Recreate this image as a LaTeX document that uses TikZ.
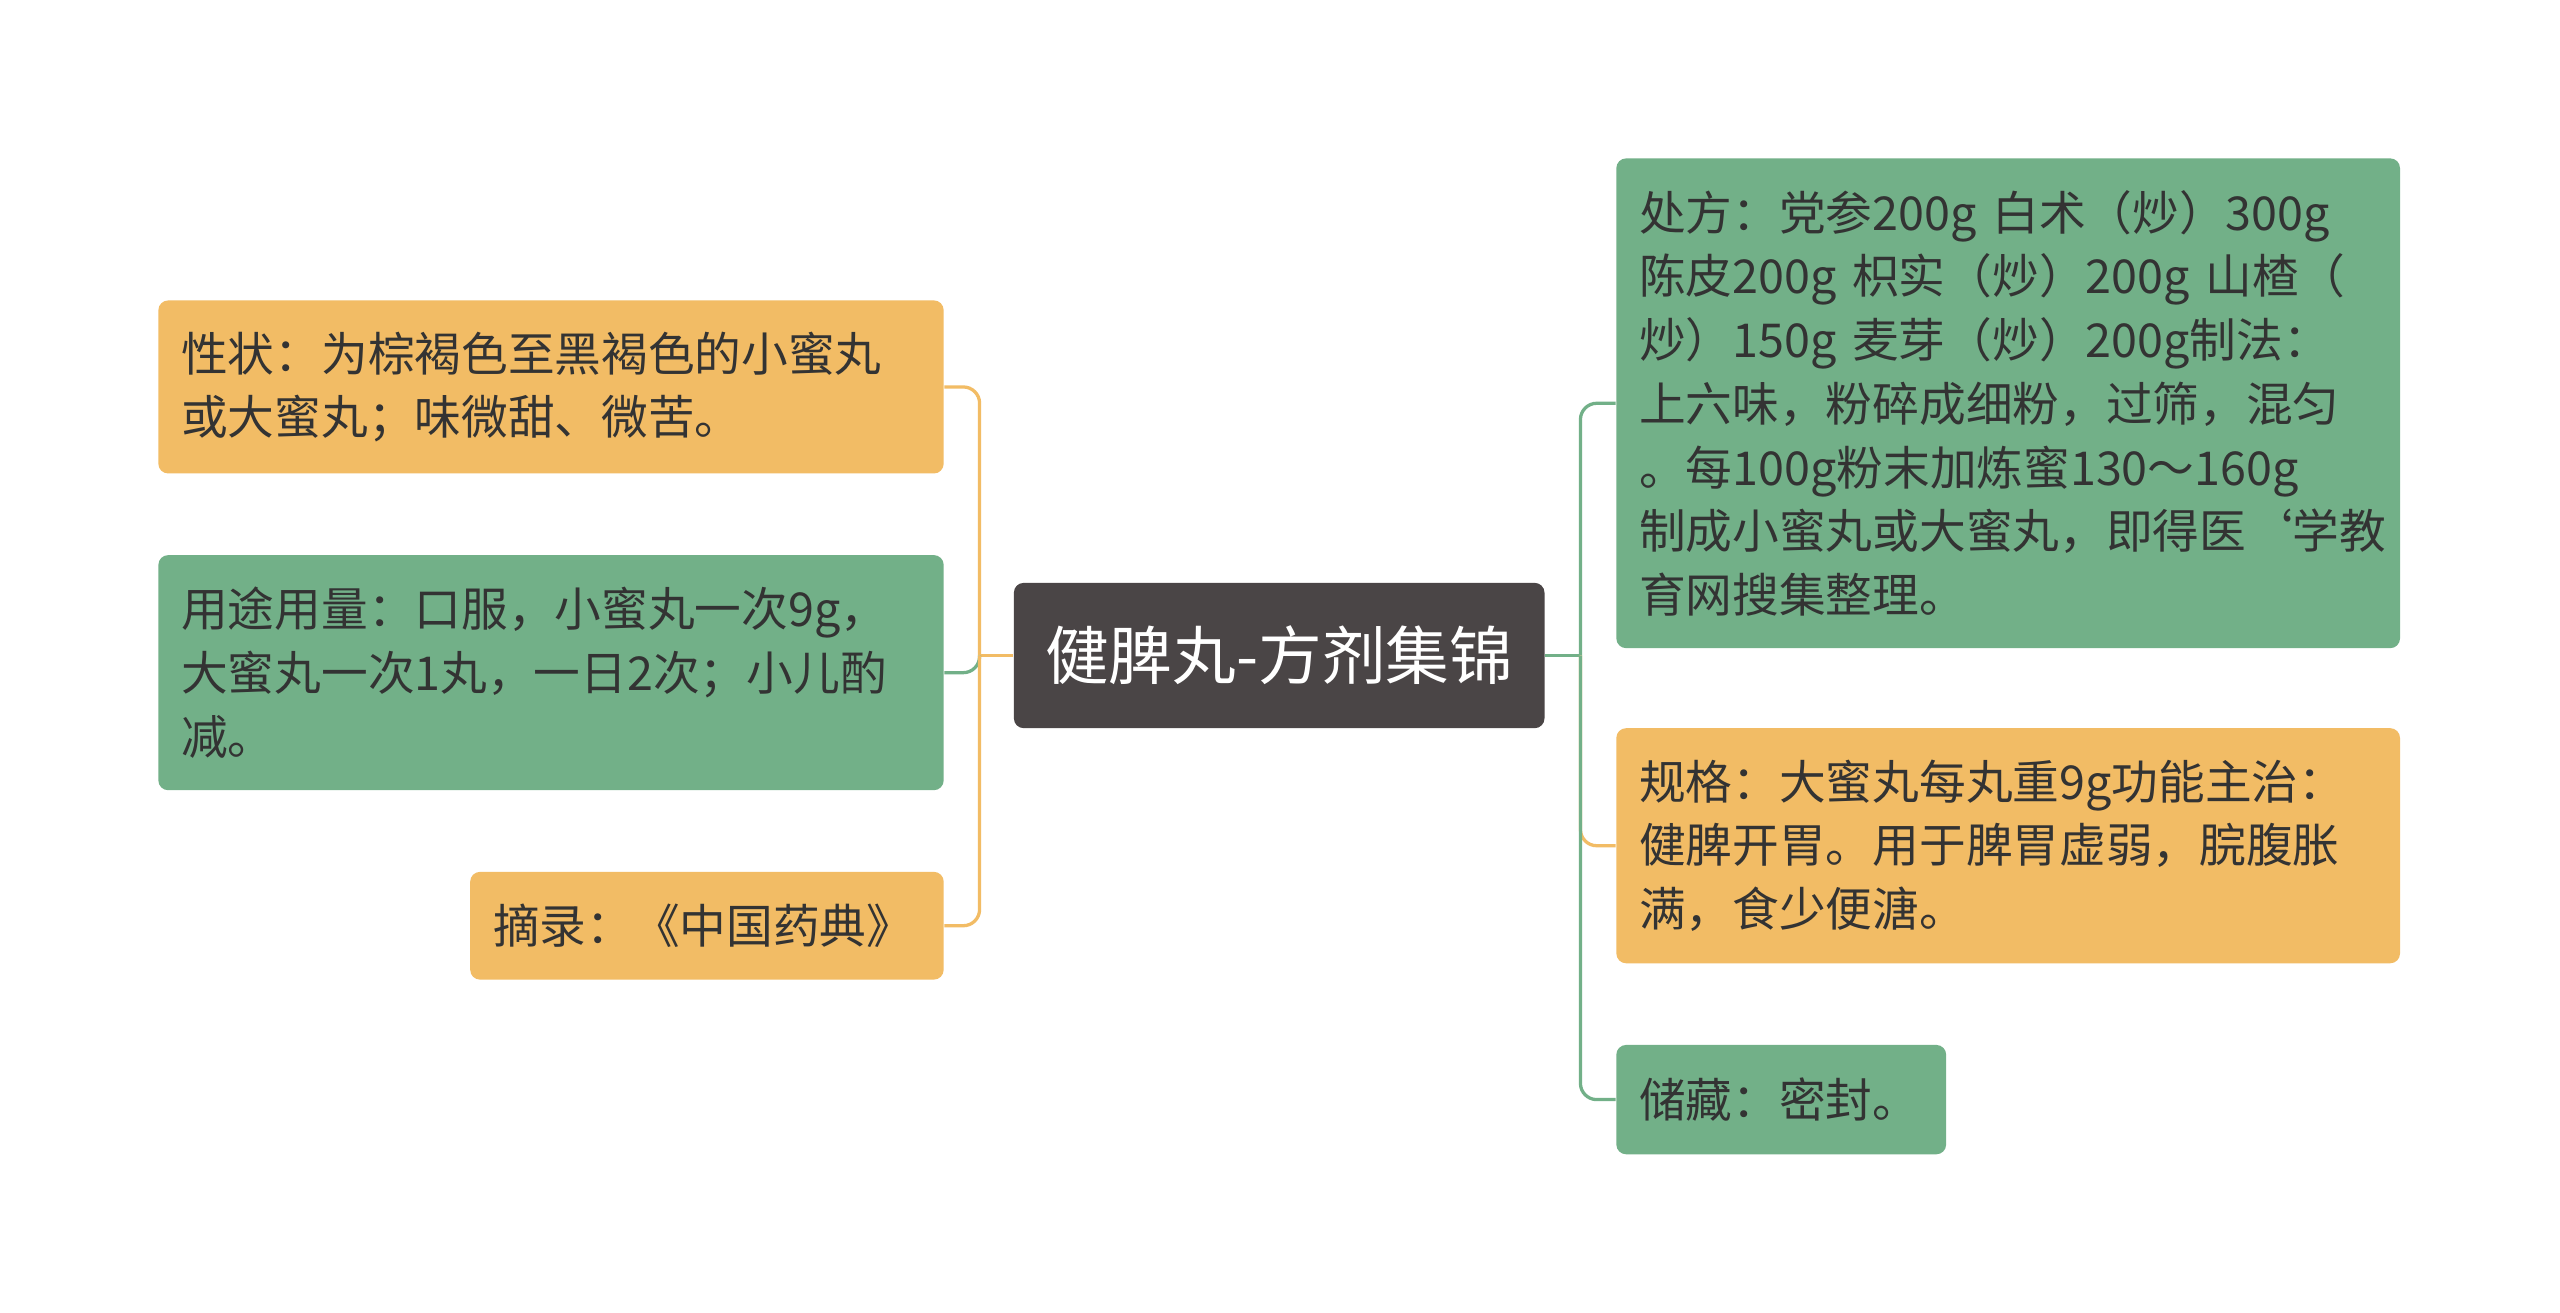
\documentclass[tikz,border=0pt]{standalone}
\usepackage{fontspec}
\setmainfont{Noto Sans CJK SC}
\definecolor{orgC}{HTML}{F2BC65}
\definecolor{grnC}{HTML}{72B088}
\definecolor{ctrC}{HTML}{4A4546}
\definecolor{txtC}{HTML}{333333}
\begin{document}
\begin{tikzpicture}[x=0.5pt,y=-0.5pt,
  box/.style={rounded corners=3pt,align=left,inner xsep=7pt,inner ysep=0pt,text=txtC,
    font=\fontsize{14.3pt}{19.5pt}\selectfont},
  obox/.style={box,fill=orgC},
  gbox/.style={box,fill=grnC},
  oline/.style={draw=orgC,line width=1pt,rounded corners=5pt},
  gline/.style={draw=grnC,line width=1pt,rounded corners=5pt}]
\fill[white] (0,0) rectangle (1568,804);
\useasboundingbox (0,0) rectangle (1568,804);
\node[rounded corners=3pt,fill=ctrC,text=white,minimum width=162.5pt,minimum height=44.5pt,inner sep=0pt,font=\fontsize{19.5pt}{23pt}\selectfont] (c) at (783.5,401.5) {健脾丸-方剂集锦};
\node[obox,text width=226.5pt,minimum height=53pt] (l1) at (337.5,237) {性状：为棕褐色至黑褐色的小蜜丸\\或大蜜丸；味微甜、微苦。};
\node[gbox,text width=226.5pt,minimum height=72pt] (l2) at (337.5,412) {用途用量：口服，小蜜丸一次9g，\\大蜜丸一次1丸，一日2次；小儿酌\\减。};
\node[obox,text width=131pt,minimum height=33pt] (l3) at (433,567) {摘录：《中国药典》};
\node[gbox,text width=226pt,minimum height=150pt] (r1) at (1230,247) {处方：党参200g 白术（炒）300g\\陈皮200g 枳实（炒）200g 山楂（\\炒）150g 麦芽（炒）200g制法：\\上六味，粉碎成细粉，过筛，混匀\\。每100g粉末加炼蜜130～160g\\制成小蜜丸或大蜜丸，即得医{\char96}学教\\育网搜集整理。};
\node[obox,text width=226pt,minimum height=72pt] (r2) at (1230,518) {规格：大蜜丸每丸重9g功能主治：\\健脾开胃。用于脾胃虚弱，脘腹胀\\满，食少便溏。};
\node[gbox,text width=87pt,minimum height=33.5pt] (r3) at (1091,673.5) {储藏：密封。};
\coordinate (lj) at (600,401.5);
\coordinate (rj) at (968,401.5);
\draw[oline] (c.west) -- (lj);
\draw[oline] (lj) |- (l1.east);
\draw[gline] (lj) |- (l2.east);
\draw[oline] (lj) |- (l3.east);
\draw[gline] (c.east) -- (rj);
\draw[gline] (rj) |- (r1.west);
\draw[oline] (rj) |- (r2.west);
\draw[gline] (rj) |- (r3.west);
\end{tikzpicture}
\end{document}
